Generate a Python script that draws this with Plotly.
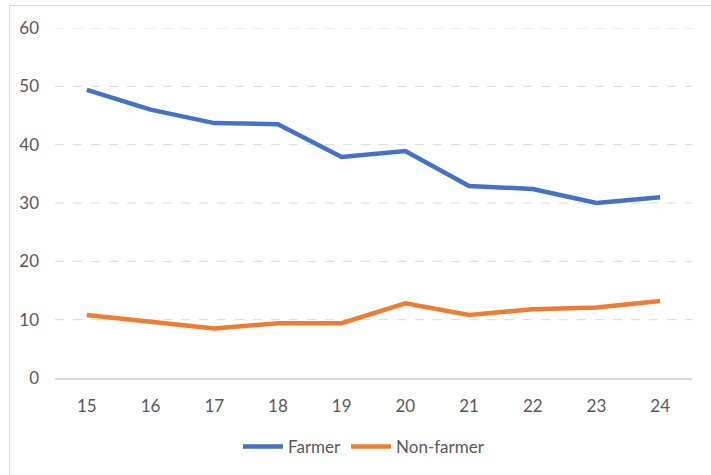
import plotly.graph_objects as go

categories = ["15", "16", "17", "18", "19", "20", "21", "22", "23", "24"]
farmer = [49.4, 46.0, 43.7, 43.5, 37.9, 38.9, 32.9, 32.4, 30.0, 31.0]
non_farmer = [10.8, 9.6, 8.5, 9.4, 9.4, 12.8, 10.8, 11.8, 12.1, 13.2]
y_ticks = [0, 10, 20, 30, 40, 50, 60]

W, H = 711, 475
L, R, T, B = 55, 19, 28, 97
pw, ph = W - L - R, H - T - B

fig = go.Figure()
fig.add_trace(go.Scatter(x=categories, y=farmer, mode="lines", name="Farmer",
                         line=dict(color="#4472C4", width=4.5)))
fig.add_trace(go.Scatter(x=categories, y=non_farmer, mode="lines", name="Non-farmer",
                         line=dict(color="#ED7D31", width=4.5)))

FAM = "Lato, Open Sans, Liberation Sans, sans-serif"
font = dict(family=FAM, size=17, color="#595959")

# gridlines (dashed)
for v in y_ticks[1:]:
    fig.add_shape(type="line", xref="paper", yref="y", x0=0, x1=1, y0=v, y1=v,
                  line=dict(color="#D9D9D9", width=1, dash="dash"), layer="below")

# chart border (left and top visible)
bx = (9.5 - L) / pw
by = 1 + (T - 5.5) / ph
fig.add_shape(type="line", xref="paper", yref="paper", x0=bx, x1=bx, y0=by, y1=-(B + 5) / ph,
              line=dict(color="#D9D9D9", width=1))
fig.add_shape(type="line", xref="paper", yref="paper", x0=bx, x1=1 + (R + 5) / pw, y0=by, y1=by,
              line=dict(color="#D9D9D9", width=1))

fig.update_layout(
    width=W, height=H,
    margin=dict(l=L, r=R, t=T, b=B, autoexpand=False),
    paper_bgcolor="white", plot_bgcolor="white",
    font=font,
    showlegend=True,
    legend=dict(orientation="h", x=0.512, xanchor="center", xref="container",
                y=1 - 447 / H, yanchor="middle", yref="container",
                font=dict(family=FAM, size=17, color="#595959"), itemwidth=40),
    xaxis=dict(type="category", range=[-0.5, 9.5], showgrid=False, zeroline=False,
               automargin=False,
               showline=True, linecolor="#D9D9D9", linewidth=1.5, ticks="",
               ticklabelstandoff=12, tickfont=dict(family=FAM, size=17, color="#595959")),
    yaxis=dict(range=[0, 60], tickvals=y_ticks, showgrid=False, zeroline=False,
               automargin=False,
               showline=False, ticks="", ticklabelstandoff=15,
               tickfont=dict(family=FAM, size=17, color="#595959")),
)

fig.write_html("out.html", config={"displayModeBar": False},
               post_script="document.body.style.margin='0';document.body.style.overflow='hidden';")
